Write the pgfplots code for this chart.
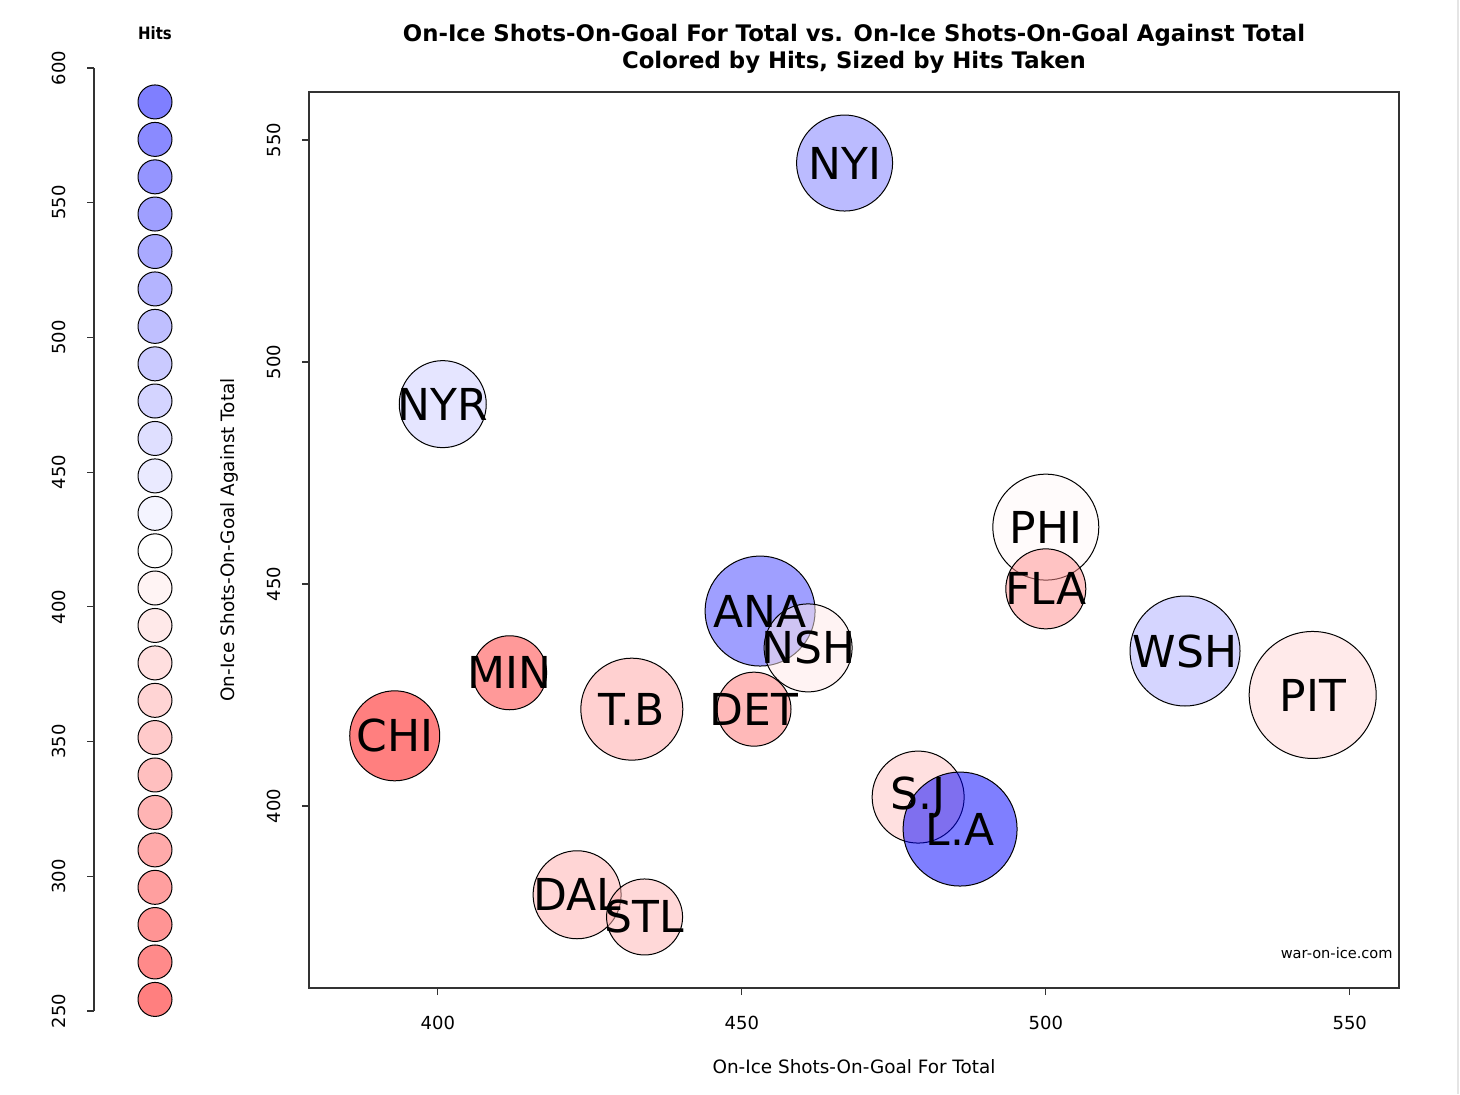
\documentclass[border=0pt]{standalone}
\usepackage{fontspec}
\setmainfont{DejaVu Sans}
\newfontfamily\titlefont[FakeStretch=0.88]{DejaVu Sans}
\usepackage{pgfplots}
\usepackage{pgfplotstable}
\pgfplotsset{compat=1.18}

\pgfplotstableread{
x y r c label
466.9 544.8 24 53 NYI
400.8 490.5 21.75 20 NYR
500.0 462.8 26.5 -3 PHI
500.0 448.9 20 -45 FLA
453.0 443.9 27.5 75 ANA
460.9 435.6 22 -9 NSH
522.9 434.9 27.5 33 WSH
543.9 425.0 31.75 -16 PIT
411.8 430.0 18.5 -80 MIN
431.9 421.8 25.5 -37 T.B
452.0 421.8 18.5 -55 DET
392.9 415.8 22.5 -100 CHI
479.0 402.0 23 -24 S.J
485.9 394.8 28.5 100 L.A
422.9 380.0 22 -33 DAL
434.0 375.0 19 -30 STL
}\teams

\pgfplotstableread{
x y c
0.5755 587.4 100
0.5755 573.5 91.67
0.5755 559.6 83.33
0.5755 545.8 75
0.5755 531.9 66.67
0.5755 518.0 58.33
0.5755 504.1 50
0.5755 490.2 41.67
0.5755 476.4 33.33
0.5755 462.5 25
0.5755 448.6 16.67
0.5755 434.7 8.33
0.5755 420.8 0
0.5755 407.0 -8.33
0.5755 393.1 -16.67
0.5755 379.2 -25
0.5755 365.3 -33.33
0.5755 351.5 -41.67
0.5755 337.6 -50
0.5755 323.7 -58.33
0.5755 309.8 -66.67
0.5755 295.9 -75
0.5755 282.1 -83.33
0.5755 268.2 -91.67
0.5755 254.3 -100
}\hitsscale

\pgfplotsset{
  bwrmap/.style={colormap={bwr}{rgb255=(255,0,0) rgb255=(255,255,255) rgb255=(0,0,255)},
    point meta min=-100, point meta max=100},
}

\begin{document}
\begin{tikzpicture}
\path[use as bounding box] (0,0) rectangle (730pt,547pt);

% legend scale axis
\begin{axis}[at={(47pt,41.5pt)}, anchor=south west, scale only axis,
  width=53pt, height=471.5pt,
  xmin=0, xmax=1, ymin=250, ymax=600,
  axis x line=none, axis y line=left,
  axis line style={-, black!80, line width=0.6pt},
  ytick={250,300,350,400,450,500,550,600},
  tick align=outside, major tick length=3.5pt,
  tick style={black!80, line width=0.6pt},
  /pgf/number format/assume math mode=true,
  ticklabel style={font=\fontsize{9}{10}\selectfont},
  yticklabel style={rotate=90, anchor=south},
  yticklabel shift=7pt,
  bwrmap, clip=false]
\addplot[scatter, only marks, mark=*, mark size=8.5pt, point meta=explicit,
  scatter/use mapped color={draw=black, fill=mapped color},
  mark options={fill opacity=0.5, line width=0.5pt}]
  table[x=x, y=y, meta=c]{\hitsscale};
\end{axis}

% main axis
\begin{axis}[at={(154.5pt,53pt)}, anchor=south west, scale only axis,
  width=545pt, height=448pt,
  xmin=378.8, xmax=558.1, ymin=359, ymax=560.8,
  xtick={400,450,500,550}, ytick={400,450,500,550},
  tick align=outside, tick pos=left, major tick length=3.5pt,
  tick style={black!80, line width=0.6pt},
  axis line style={black!80, line width=0.6pt},
  /pgf/number format/assume math mode=true,
  ticklabel style={font=\fontsize{9}{10}\selectfont},
  yticklabel style={rotate=90, anchor=south},
  xticklabel shift=7pt, yticklabel shift=7pt,
  bwrmap]
\addplot[scatter, only marks, mark=*, point meta=explicit,
  scatter/use mapped color={draw=black, fill=mapped color},
  visualization depends on={\thisrow{r} \as \bubr},
  scatter/@pre marker code/.append style={/tikz/mark size=\bubr},
  mark options={fill opacity=0.5, line width=0.5pt}]
  table[x=x, y=y, meta=c]{\teams};
\addplot[only marks, mark=none, point meta=explicit symbolic,
  nodes near coords,
  nodes near coords style={anchor=center, inner sep=0pt, text=black,
    font=\fontsize{22}{22}\selectfont}]
  table[x=x, y=y, meta=label]{\teams};
\node[anchor=base east, font=\fontsize{7.3}{8}\selectfont, inner sep=0pt]
  at (rel axis cs:0.9945,0.0335) {war-on-ice.com};
\end{axis}

% titles and labels
\node[anchor=base, inner sep=0pt, font=\bfseries\fontsize{11.4}{12}\selectfont]
  at (427pt,526pt) {On-Ice Shots-On-Goal For Total vs. On-Ice Shots-On-Goal Against Total};
\node[anchor=base, inner sep=0pt, font=\bfseries\fontsize{11.4}{12}\selectfont]
  at (427pt,512.5pt) {Colored by Hits, Sized by Hits Taken};
\node[font=\titlefont\bfseries\fontsize{8.5}{9}\selectfont]
  at (77.5pt,530.5pt) {Hits};
\node[font=\fontsize{9.2}{10}\selectfont] at (427pt,13.5pt) {On-Ice Shots-On-Goal For Total};
\node[rotate=90, font=\fontsize{9.2}{10}\selectfont] at (114.5pt,277pt) {On-Ice Shots-On-Goal Against Total};
\draw[black!10, line width=1pt] (729pt,0pt) -- (729pt,547pt);
\end{tikzpicture}
\end{document}
